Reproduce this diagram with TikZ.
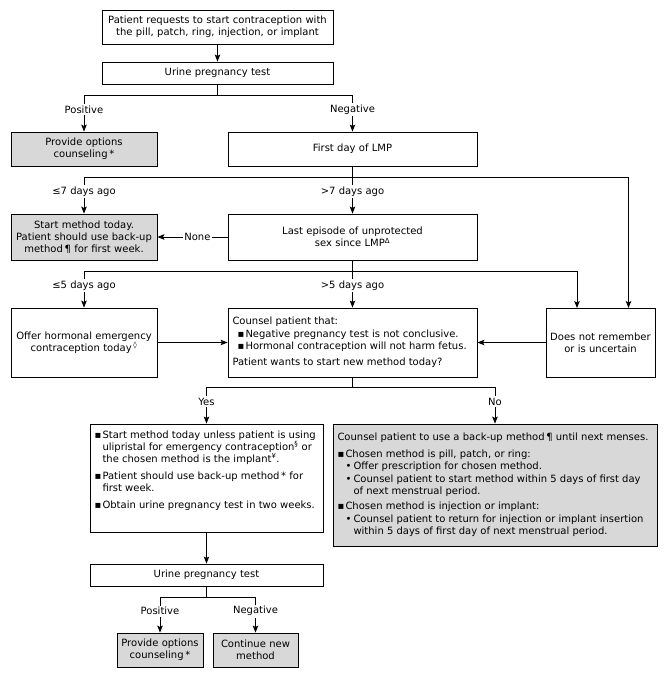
\documentclass[tikz,border=0pt]{standalone}
\usepackage{fontspec}
\setmainfont{DejaVu Sans}
\usetikzlibrary{arrows.meta,calc}
\definecolor{boxgray}{RGB}{216,216,216}
\newcommand{\fs}{\fontsize{10}{12}\selectfont}
\newcommand{\sqitem}[1]{\noindent\hangindent=8pt\hangafter=1\makebox[8pt][l]{▪}#1}
\newcommand{\dotitem}[1]{\noindent\hangindent=16pt\hangafter=1\hspace*{8pt}\makebox[8pt][l]{•}#1}
\begin{document}
\begin{tikzpicture}[x=1pt,y=-1pt,
  box/.style={draw=black, line width=0.9pt, inner sep=0pt, align=center, font=\fs},
  gbox/.style={box, fill=boxgray},
  arr/.style={line width=0.9pt, -{Stealth[length=7pt,width=5.5pt,inset=1.5pt]}},
  ln/.style={line width=0.9pt},
  lbl/.style={fill=white, inner sep=1.5pt, font=\fs}]
\useasboundingbox (0,0) rectangle (666,680);

\node[box, minimum width=231pt, minimum height=34pt, text width=228pt] (b1) at (217.5,27)
  {Patient requests to start contraception with\\the pill, patch, ring, injection, or implant};
\node[box, minimum width=231pt, minimum height=22pt, text width=225pt] (b2) at (217.5,73)
  {Urine pregnancy test};
\node[gbox, minimum width=146pt, minimum height=34pt, text width=140pt] (pc1) at (84,149)
  {Provide options\\counseling\,*};
\node[box, minimum width=249pt, minimum height=34pt, text width=240pt] (lmp) at (352.5,149)
  {First day of LMP};
\node[gbox, minimum width=146pt, minimum height=46pt, text width=145pt] (sm) at (84,237)
  {Start method today.\\Patient should use back-up\\method\,¶ for first week.};
\node[box, minimum width=249pt, minimum height=46pt, text width=240pt] (le) at (352.5,237)
  {Last episode of unprotected\\sex since LMP\textsuperscript{Δ}};
\node[box, minimum width=146pt, minimum height=69pt, text width=145pt] (oh) at (84,342.5)
  {Offer hormonal emergency\\contraception today\,\textsuperscript{◊}};
\node[box, minimum width=249pt, minimum height=69pt] (cp) at (352.5,342.5)
  {\parbox{240pt}{Counsel patient that:\\[1pt]
   \hspace*{5pt}\makebox[8pt][l]{▪}Negative pregnancy test is not conclusive.\\
   \hspace*{5pt}\makebox[8pt][l]{▪}Hormonal contraception will not harm fetus.\\[4pt]
   Patient wants to start new method today?}};
\node[box, minimum width=109pt, minimum height=69pt, text width=107pt] (dn) at (600.5,342.5)
  {Does not remember\\or is uncertain};
\node[box, minimum width=233pt, minimum height=108pt, inner sep=4.5pt] (yb) at (206.5,478)
  {\parbox[c][99pt][t]{224pt}{\hyphenpenalty=10000 \exhyphenpenalty=10000
   \vspace*{2pt}
   \sqitem{Start method today unless patient is using\newline ulipristal for emergency contraception\textsuperscript{§} or\newline the chosen method is the implant\textsuperscript{¥}.}\par\vspace{5pt}
   \sqitem{Patient should use back-up method\,* for\newline first week.}\par\vspace{5pt}
   \sqitem{Obtain urine pregnancy test in two weeks.}}};
\node[gbox, minimum width=324pt, minimum height=122pt, inner sep=4.5pt] (nb) at (495,485)
  {\parbox{315pt}{\hyphenpenalty=10000 \exhyphenpenalty=10000
   \fontsize{10}{12.4}\selectfont
   Counsel patient to use a back-up method\,¶ until next menses.\par\vspace{4pt}
   \sqitem{Chosen method is pill, patch, or ring:}\par
   \dotitem{Offer prescription for chosen method.}\par
   \dotitem{Counsel patient to start method within 5 days of first day\newline of next menstrual period.}\par\vspace{3pt}
   \sqitem{Chosen method is injection or implant:}\par
   \dotitem{Counsel patient to return for injection or implant insertion\newline within 5 days of first day of next menstrual period.}}};
\node[box, minimum width=233pt, minimum height=22pt, text width=225pt] (b3) at (206.5,575)
  {Urine pregnancy test};
\node[gbox, minimum width=86pt, minimum height=34pt, text width=86pt] (pc2) at (160,650)
  {Provide options\\counseling\,*};
\node[gbox, minimum width=85pt, minimum height=34pt, text width=84pt] (cn) at (255.5,650)
  {Continue new\\method};

% connectors
\draw[arr] (b1) -- (b2);
\coordinate (j1) at (217.5,95);
\draw[ln] (b2.south) -- (j1);
\draw[arr] (j1) -| (pc1.north) node[lbl,pos=0.7]{Positive};
\draw[arr] (j1) -| (lmp.north) node[lbl,pos=0.7]{Negative};

\coordinate (j2) at (352.5,177);
\coordinate (dnA) at (628.5,308);
\draw[ln] (lmp.south) -- (j2);
\draw[arr] (j2) -| (sm.north) node[lbl,pos=0.7]{≤7 days ago};
\draw[arr] (j2) -- (le.north) node[lbl,pos=0.4]{>7 days ago};
\draw[arr] (j2) -| (dnA);

\draw[arr] (le.west) -- (sm.east) node[lbl,pos=0.43]{None};

\coordinate (j3) at (352.5,271);
\coordinate (dnB) at (577,308);
\draw[ln] (le.south) -- (j3);
\draw[arr] (j3) -| (oh.north) node[lbl,pos=0.7]{≤5 days ago};
\draw[arr] (j3) -- (cp.north) node[lbl,pos=0.4]{>5 days ago};
\draw[arr] (j3) -| (dnB);

\draw[arr] (oh.east) -- (cp.west);
\draw[arr] (dn.west) -- (cp.east);

\coordinate (j4) at (352.5,387);
\draw[ln] (cp.south) -- (j4);
\draw[arr] (j4) -| (yb.north) node[lbl,pos=0.7]{Yes};
\draw[arr] (j4) -| (nb.north) node[lbl,pos=0.7]{No};

\draw[arr] (yb.south) -- (b3.north);
\coordinate (j5) at (206.5,597);
\draw[ln] (b3.south) -- (j5);
\draw[arr] (j5) -| (pc2.north) node[lbl,pos=0.7]{Positive};
\draw[arr] (j5) -| (cn.north) node[lbl,pos=0.7]{Negative};
\end{tikzpicture}
\end{document}
